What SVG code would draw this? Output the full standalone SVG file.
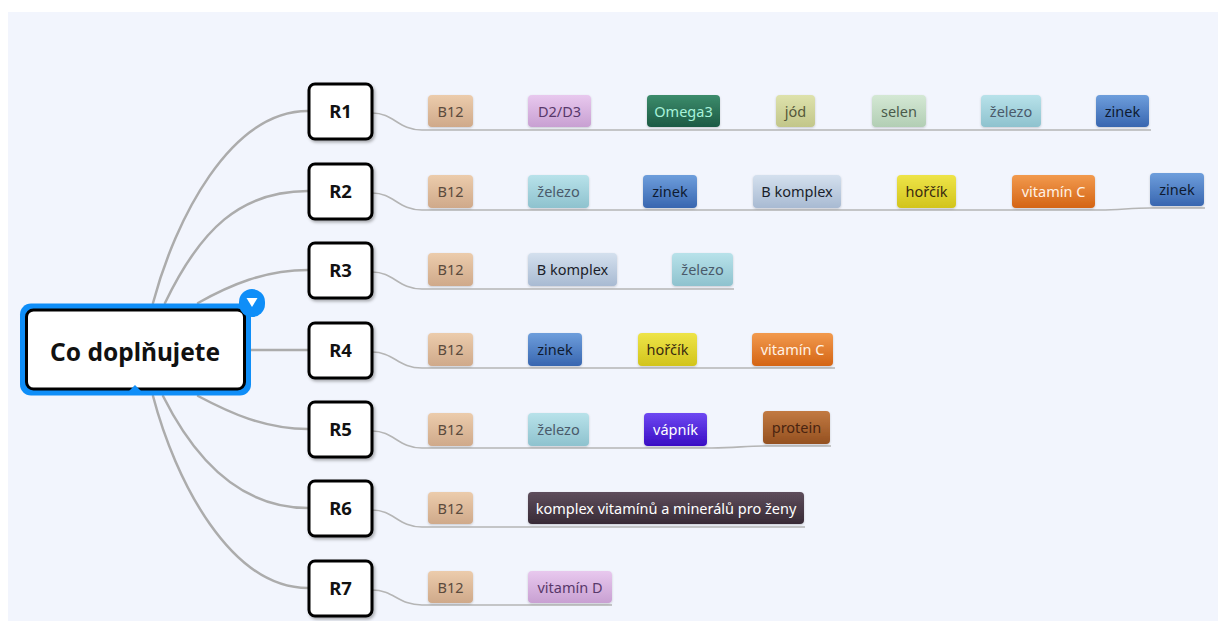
<svg xmlns="http://www.w3.org/2000/svg" width="1218" height="621" viewBox="0 0 1218 621">
  <style>
    .bg { fill: #f2f5fd; }
    .trunk { fill: none; stroke: #acacac; stroke-width: 2.5; stroke-linecap: round; }
    .branch { fill: none; stroke: #b5b5b5; stroke-width: 1.6; }
    .rbox { fill: #ffffff; stroke: #000000; stroke-width: 3; }
    .rlabel { font-family: "Noto Sans", "DejaVu Sans", sans-serif; font-weight: bold; font-size: 18.5px; fill: #111; text-anchor: middle; }
    .root-label { font-family: "Noto Sans", "DejaVu Sans", sans-serif; font-weight: bold; font-size: 24.5px; fill: #111; text-anchor: middle; }
    .tag text { font-family: "Noto Sans", "DejaVu Sans", sans-serif; font-size: 14.5px; text-anchor: middle; }
    .tag rect { stroke: none; }
    .b12 rect { fill: url(#gB12); } .b12 text { fill: #5a4a3c; }
    .lav rect { fill: url(#gLav); } .lav text { fill: #58386a; }
    .omega rect { fill: url(#gOmega); } .omega text { fill: #a8f2da; }
    .jod rect { fill: url(#gJod); } .jod text { fill: #55583a; }
    .selen rect { fill: url(#gSelen); } .selen text { fill: #4a5a4a; }
    .zel rect { fill: url(#gZel); } .zel text { fill: #4a5a6a; }
    .zinek rect { fill: url(#gZinek); } .zinek text { fill: #0e1a30; }
    .bk rect { fill: url(#gBk); } .bk text { fill: #1a1e2a; }
    .hor rect { fill: url(#gHor); } .hor text { fill: #3a2a10; }
    .vitc rect { fill: url(#gVitC); } .vitc text { fill: #fff2e4; }
    .vap rect { fill: url(#gVap); } .vap text { fill: #ffffff; }
    .prot rect { fill: url(#gProt); } .prot text { fill: #4a2410; }
    .kompl rect { fill: url(#gKompl); } .kompl text { fill: #ffffff; }
  </style>
  <defs>
    <linearGradient id="gB12" x1="0" y1="0" x2="0" y2="1"><stop offset="0" stop-color="#ecccac"/><stop offset="1" stop-color="#cfa98a"/></linearGradient>
    <linearGradient id="gLav" x1="0" y1="0" x2="0" y2="1"><stop offset="0" stop-color="#e8c8ee"/><stop offset="1" stop-color="#c8a0d2"/></linearGradient>
    <linearGradient id="gOmega" x1="0" y1="0" x2="0" y2="1"><stop offset="0" stop-color="#3c8c6c"/><stop offset="1" stop-color="#1c5a44"/></linearGradient>
    <linearGradient id="gJod" x1="0" y1="0" x2="0" y2="1"><stop offset="0" stop-color="#dee2ac"/><stop offset="1" stop-color="#c2c68a"/></linearGradient>
    <linearGradient id="gSelen" x1="0" y1="0" x2="0" y2="1"><stop offset="0" stop-color="#d4e8d4"/><stop offset="1" stop-color="#b2ceb4"/></linearGradient>
    <linearGradient id="gZel" x1="0" y1="0" x2="0" y2="1"><stop offset="0" stop-color="#b8e2ea"/><stop offset="1" stop-color="#8ec2ce"/></linearGradient>
    <linearGradient id="gZinek" x1="0" y1="0" x2="0" y2="1"><stop offset="0" stop-color="#6e9edc"/><stop offset="1" stop-color="#3866b0"/></linearGradient>
    <linearGradient id="gBk" x1="0" y1="0" x2="0" y2="1"><stop offset="0" stop-color="#d4e0ee"/><stop offset="1" stop-color="#a8bad2"/></linearGradient>
    <linearGradient id="gHor" x1="0" y1="0" x2="0" y2="1"><stop offset="0" stop-color="#eee448"/><stop offset="1" stop-color="#d2c41c"/></linearGradient>
    <linearGradient id="gVitC" x1="0" y1="0" x2="0" y2="1"><stop offset="0" stop-color="#f29a4e"/><stop offset="1" stop-color="#d46414"/></linearGradient>
    <linearGradient id="gVap" x1="0" y1="0" x2="0" y2="1"><stop offset="0" stop-color="#6e48f2"/><stop offset="1" stop-color="#3a0ec4"/></linearGradient>
    <linearGradient id="gProt" x1="0" y1="0" x2="0" y2="1"><stop offset="0" stop-color="#c27a42"/><stop offset="1" stop-color="#945020"/></linearGradient>
    <linearGradient id="gKompl" x1="0" y1="0" x2="0" y2="1"><stop offset="0" stop-color="#5e4e5c"/><stop offset="1" stop-color="#382a36"/></linearGradient>
    <filter id="shadow" x="-20%" y="-20%" width="150%" height="150%">
      <feDropShadow dx="1.5" dy="2" stdDeviation="1.5" flood-color="#000" flood-opacity="0.3"/>
    </filter>
    <filter id="tagShadow" x="-10%" y="-10%" width="120%" height="140%">
      <feDropShadow dx="0" dy="1" stdDeviation="0.8" flood-color="#000" flood-opacity="0.18"/>
    </filter>
  </defs>

  <!-- canvas -->
  <rect width="1218" height="621" fill="#ffffff"/>
  <rect class="bg" x="8" y="12" width="1210" height="609"/>

  <!-- connectors -->
  <g id="connectors">
    <path class="trunk" d="M153,303 C175,220 230,111 308,111"/>
    <path class="trunk" d="M165,303 C200,230 240,191 308,191"/>
    <path class="trunk" d="M198,303 C230,285 265,270 308,270"/>
    <path class="trunk" d="M250,350 L308,350"/>
    <path class="trunk" d="M198,396 C230,413 265,429 308,429"/>
    <path class="trunk" d="M163,396 C195,460 240,508 308,508"/>
    <path class="trunk" d="M153,396 C175,480 230,588 308,588"/>

    <path class="branch" d="M372,113 C394,113 398,130 422,130 L1151,130"/>
    <path class="branch" d="M372,193 C394,193 398,210 422,210 L1100,210 C1120,210 1130,208 1150,208 L1205,208"/>
    <path class="branch" d="M372,272 C394,272 398,289 422,289 L734,289"/>
    <path class="branch" d="M372,352 C394,352 398,368 422,368 L835,368"/>
    <path class="branch" d="M372,431 C394,431 398,448 422,448 L712,448 C735,448 745,446 763,446 L831,446"/>
    <path class="branch" d="M372,510 C394,510 398,527 422,527 L805,527"/>
    <path class="branch" d="M372,590 C394,590 398,605 422,605 L612,605"/>
  </g>

  <!-- central topic -->
  <g id="root">
    <rect x="20" y="303.5" width="231" height="92" rx="11" fill="#0f8ef8"/>
    <rect x="26.5" y="310" width="218" height="79" rx="7" class="rbox"/>
    <polygon points="127,393 135,385 143,393" fill="#0f8ef8"/>
    <text class="root-label" x="135" y="361">Co doplňujete</text>
    <g id="collapse">
      <rect x="239" y="289" width="26" height="28" rx="13" fill="#0f8ef8"/>
      <polygon points="246.5,298 257.5,298 252,307" fill="#ffffff"/>
    </g>
  </g>

  <!-- first-level topics -->
  <g id="r1"><rect class="rbox" x="309" y="84" width="63" height="55" rx="6" filter="url(#shadow)"/><text class="rlabel" x="340.5" y="118">R1</text></g>
  <g id="r2"><rect class="rbox" x="309" y="164" width="63" height="55" rx="6" filter="url(#shadow)"/><text class="rlabel" x="340.5" y="198">R2</text></g>
  <g id="r3"><rect class="rbox" x="309" y="243" width="63" height="55" rx="6" filter="url(#shadow)"/><text class="rlabel" x="340.5" y="277">R3</text></g>
  <g id="r4"><rect class="rbox" x="309" y="323" width="63" height="55" rx="6" filter="url(#shadow)"/><text class="rlabel" x="340.5" y="357">R4</text></g>
  <g id="r5"><rect class="rbox" x="309" y="402" width="63" height="55" rx="6" filter="url(#shadow)"/><text class="rlabel" x="340.5" y="436">R5</text></g>
  <g id="r6"><rect class="rbox" x="309" y="481" width="63" height="55" rx="6" filter="url(#shadow)"/><text class="rlabel" x="340.5" y="515">R6</text></g>
  <g id="r7"><rect class="rbox" x="309" y="561" width="63" height="55" rx="6" filter="url(#shadow)"/><text class="rlabel" x="340.5" y="595">R7</text></g>

  <!-- R1 items -->
  <g id="r1-b12" class="tag b12"><rect x="428" y="95" width="45" height="32" rx="4" filter="url(#tagShadow)"/><text x="450.5" y="116.5">B12</text></g>
  <g id="r1-d2d3" class="tag lav"><rect x="528" y="95" width="63" height="32" rx="4" filter="url(#tagShadow)"/><text x="559.5" y="116.5">D2/D3</text></g>
  <g id="r1-omega3" class="tag omega"><rect x="647" y="95" width="73" height="32" rx="4" filter="url(#tagShadow)"/><text x="683.5" y="116.5">Omega3</text></g>
  <g id="r1-jod" class="tag jod"><rect x="776" y="95" width="39" height="32" rx="4" filter="url(#tagShadow)"/><text x="795.5" y="116.5">jód</text></g>
  <g id="r1-selen" class="tag selen"><rect x="872" y="95" width="54" height="32" rx="4" filter="url(#tagShadow)"/><text x="899" y="116.5">selen</text></g>
  <g id="r1-zelezo" class="tag zel"><rect x="981" y="95" width="60" height="32" rx="4" filter="url(#tagShadow)"/><text x="1011" y="116.5">železo</text></g>
  <g id="r1-zinek" class="tag zinek"><rect x="1096" y="95" width="53" height="32" rx="4" filter="url(#tagShadow)"/><text x="1122.5" y="116.5">zinek</text></g>

  <!-- R2 items -->
  <g id="r2-b12" class="tag b12"><rect x="428" y="175" width="45" height="33" rx="4" filter="url(#tagShadow)"/><text x="450.5" y="196.5">B12</text></g>
  <g id="r2-zelezo" class="tag zel"><rect x="528" y="175" width="61" height="33" rx="4" filter="url(#tagShadow)"/><text x="558.5" y="196.5">železo</text></g>
  <g id="r2-zinek" class="tag zinek"><rect x="643" y="175" width="54" height="33" rx="4" filter="url(#tagShadow)"/><text x="670" y="196.5">zinek</text></g>
  <g id="r2-bkomplex" class="tag bk"><rect x="753" y="175" width="88" height="33" rx="4" filter="url(#tagShadow)"/><text x="797" y="196.5">B komplex</text></g>
  <g id="r2-horcik" class="tag hor"><rect x="897" y="175" width="59" height="33" rx="4" filter="url(#tagShadow)"/><text x="926.5" y="196.5">hořčík</text></g>
  <g id="r2-vitaminc" class="tag vitc"><rect x="1012" y="175" width="83" height="33" rx="4" filter="url(#tagShadow)"/><text x="1053.5" y="196.5">vitamín C</text></g>
  <g id="r2-zinek2" class="tag zinek"><rect x="1150" y="173" width="54" height="33" rx="4" filter="url(#tagShadow)"/><text x="1177" y="194.5">zinek</text></g>

  <!-- R3 items -->
  <g id="r3-b12" class="tag b12"><rect x="428" y="253" width="45" height="33" rx="4" filter="url(#tagShadow)"/><text x="450.5" y="274.5">B12</text></g>
  <g id="r3-bkomplex" class="tag bk"><rect x="528" y="253" width="89" height="33" rx="4" filter="url(#tagShadow)"/><text x="572.5" y="274.5">B komplex</text></g>
  <g id="r3-zelezo" class="tag zel"><rect x="672" y="253" width="61" height="33" rx="4" filter="url(#tagShadow)"/><text x="702.5" y="274.5">železo</text></g>

  <!-- R4 items -->
  <g id="r4-b12" class="tag b12"><rect x="428" y="333" width="45" height="33" rx="4" filter="url(#tagShadow)"/><text x="450.5" y="354.5">B12</text></g>
  <g id="r4-zinek" class="tag zinek"><rect x="528" y="333" width="54" height="33" rx="4" filter="url(#tagShadow)"/><text x="555" y="354.5">zinek</text></g>
  <g id="r4-horcik" class="tag hor"><rect x="638" y="333" width="59" height="33" rx="4" filter="url(#tagShadow)"/><text x="667.5" y="354.5">hořčík</text></g>
  <g id="r4-vitaminc" class="tag vitc"><rect x="752" y="333" width="81" height="33" rx="4" filter="url(#tagShadow)"/><text x="792.5" y="354.5">vitamín C</text></g>

  <!-- R5 items -->
  <g id="r5-b12" class="tag b12"><rect x="428" y="413" width="45" height="33" rx="4" filter="url(#tagShadow)"/><text x="450.5" y="434.5">B12</text></g>
  <g id="r5-zelezo" class="tag zel"><rect x="528" y="413" width="61" height="33" rx="4" filter="url(#tagShadow)"/><text x="558.5" y="434.5">železo</text></g>
  <g id="r5-vapnik" class="tag vap"><rect x="644" y="413" width="63" height="33" rx="4" filter="url(#tagShadow)"/><text x="675.5" y="434.5">vápník</text></g>
  <g id="r5-protein" class="tag prot"><rect x="763" y="411" width="67" height="33" rx="4" filter="url(#tagShadow)"/><text x="796.5" y="432.5">protein</text></g>

  <!-- R6 items -->
  <g id="r6-b12" class="tag b12"><rect x="428" y="492" width="45" height="32" rx="4" filter="url(#tagShadow)"/><text x="450.5" y="513.5">B12</text></g>
  <g id="r6-komplex" class="tag kompl"><rect x="528" y="492" width="276" height="32" rx="4" filter="url(#tagShadow)"/><text x="666" y="513.5">komplex vitamínů a minerálů pro ženy</text></g>

  <!-- R7 items -->
  <g id="r7-b12" class="tag b12"><rect x="428" y="571" width="45" height="32" rx="4" filter="url(#tagShadow)"/><text x="450.5" y="592.5">B12</text></g>
  <g id="r7-vitamind" class="tag lav"><rect x="528" y="571" width="84" height="32" rx="4" filter="url(#tagShadow)"/><text x="570" y="592.5">vitamín D</text></g>
</svg>
